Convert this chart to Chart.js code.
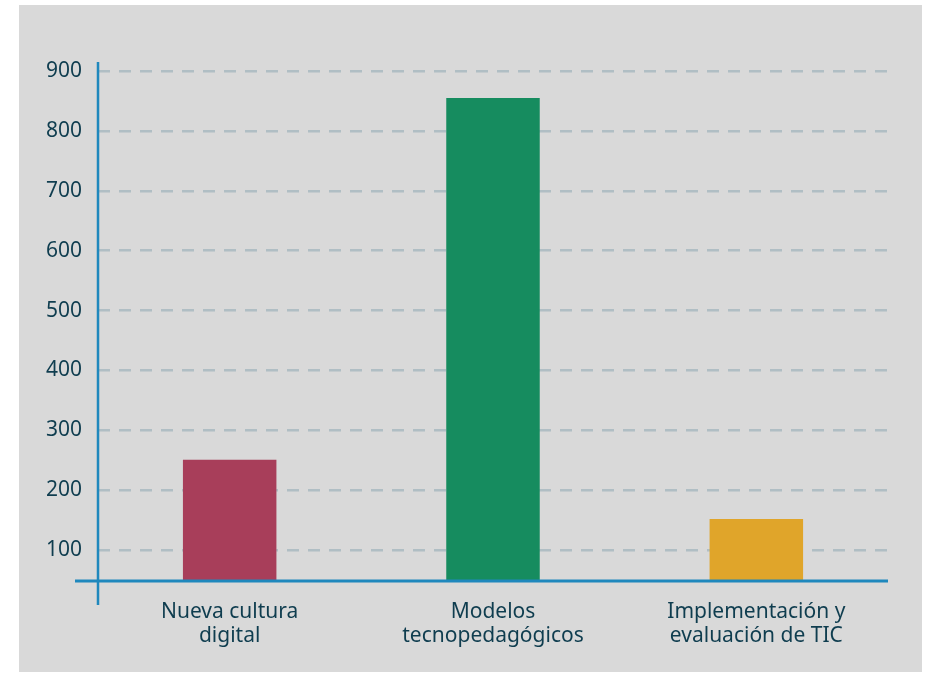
<!DOCTYPE html>
<html>
<head>
<meta charset="utf-8">
<script src="https://cdn.jsdelivr.net/npm/chart.js@4"></script>
<style>
  body { margin: 0; background: #ffffff; }
  #panel { position: absolute; left: 19px; top: 5px; width: 903px; height: 667px; background: #d9d9d9; }
</style>
</head>
<body>
<div id="panel"><canvas id="chart"></canvas></div>
<script>
const categories = [['Nueva cultura', 'digital'], ['Modelos', 'tecnopedagógicos'], ['Implementación y', 'evaluación de TIC']];
const values = [251, 855, 152];
const barColors = ['#a83e5a', '#168c5f', '#e0a52a'];
const yTicks = [100, 200, 300, 400, 500, 600, 700, 800, 900];

const textColor = '#0f3d4f';
const axisColor = '#1f88bd';

// axis lines that run past the plot area, like the original
const axisLines = {
  id: 'axisLines',
  afterDraw(chart) {
    const { ctx, chartArea } = chart;
    ctx.save();
    ctx.strokeStyle = axisColor;
    ctx.lineWidth = 3;
    ctx.beginPath();
    ctx.moveTo(chartArea.left - 23, chartArea.bottom + 1);
    ctx.lineTo(chartArea.right, chartArea.bottom + 1);
    ctx.stroke();
    ctx.lineWidth = 2.5;
    ctx.beginPath();
    ctx.moveTo(chartArea.left, chartArea.top);
    ctx.lineTo(chartArea.left, chartArea.bottom + 25);
    ctx.stroke();
    ctx.restore();
  }
};

const ctx = document.getElementById('chart');
new Chart(ctx, {
  type: 'bar',
  data: {
    labels: categories,
    datasets: [{
      data: values,
      backgroundColor: barColors,
      barPercentage: 0.355,
      categoryPercentage: 1
    }]
  },
  options: {
    responsive: true,
    maintainAspectRatio: false,
    animation: false,
    layout: { padding: { top: 57, right: 34, left: 0, bottom: 0 } },
    plugins: { legend: { display: false }, tooltip: { enabled: false } },
    scales: {
      x: {
        grid: { display: false },
        border: { display: false },
        ticks: {
          color: textColor,
          font: { family: 'Noto Sans', size: 21, lineHeight: 1.15 },
          padding: 12,
          maxRotation: 0
        },
        afterFit: scale => { scale.height = 92; }
      },
      y: {
        min: 50,
        max: 915,
        afterBuildTicks: axis => { axis.ticks = yTicks.map(v => ({ value: v })); },
        grid: {
          color: '#b0bec4',
          lineWidth: 2.5,
          drawTicks: false
        },
        border: { display: false, dash: [12, 9] },
        ticks: {
          color: textColor,
          font: { family: 'Noto Sans', size: 21 },
          padding: 16
        },
        afterFit: scale => { scale.width = 79; }
      }
    }
  },
  plugins: [axisLines]
});
</script>
</body>
</html>
